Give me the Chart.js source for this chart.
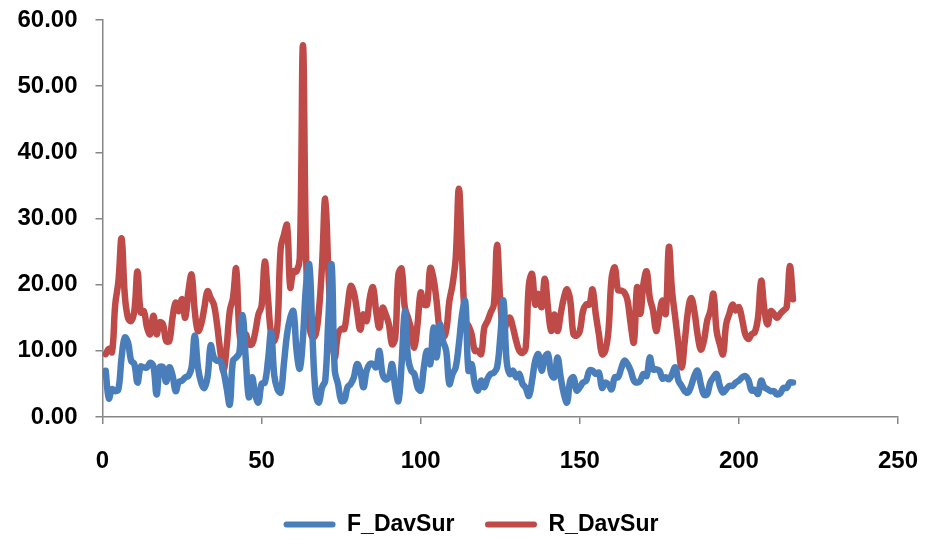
<!DOCTYPE html>
<html>
<head>
<meta charset="utf-8">
<script src="https://cdn.jsdelivr.net/npm/chart.js@4/dist/chart.umd.min.js"></script>
<style>
  html, body { margin: 0; padding: 0; background: #fff; }
  #wrap { width: 927px; height: 541px; }
</style>
</head>
<body>
<div id="wrap"><canvas id="Grafica"></canvas></div>
<script>
const POINTS = 217;

// sample number on the x axis (1..217)
const labels = Array(POINTS).fill(1).map((n, i) => n + i);

const fDavSur = [
  7, 2.8, 4.2, 3.9, 4.2, 9, 12, 11.3, 8.5, 8,
  5.2, 7.6, 7.5, 7.5, 8.2, 7.7, 3.4, 7.5, 7.5, 5.3,
  7.5, 6.3, 3.9, 5.3, 5.5, 6, 6.2, 7.5, 12.3, 7.5,
  5.2, 4.4, 6, 10.8, 9, 8.5, 8.5, 7, 4.4, 1.9,
  8.5, 9, 9.7, 15.4, 9, 3, 6, 3.4, 2.2, 5,
  5.2, 8.5, 12.8, 6.2, 4.2, 3.7, 8, 12.5, 15, 16,
  10, 7.3, 12, 20, 23, 12, 3.5, 2.2, 4.5, 5.5,
  15, 23, 7, 5, 2.5, 2.5, 4.5, 5, 6, 8,
  7, 4.5, 7, 8, 8, 7.5, 10, 6.5, 5.7, 6,
  8, 4.5, 2.4, 8, 16, 9, 7, 6.5, 4.5, 4,
  7.5, 10, 8, 13.5, 9, 14, 11.5, 10, 5, 6.5,
  7.5, 11, 15.5, 17.5, 7, 8, 5, 4, 5.5, 4.5,
  5.8, 6.5, 6.7, 7.5, 12, 17.6, 8.5, 6.5, 7, 6,
  6.5, 5, 4.4, 3.2, 5.5, 8.5, 9.5, 7, 9, 9.5,
  6.5, 6, 9, 6, 3.5, 2.2, 5.5, 6, 4, 4.5,
  5.2, 5.5, 7, 7, 6.5, 6.7, 4.4, 5.2, 4.9, 4.2,
  6, 6, 7.3, 8.5, 8, 7, 5.5, 5.2, 5.5, 6.5,
  6.2, 9, 7.2, 7.2, 7, 5.8, 6, 5.7, 6.5, 7.5,
  5.5, 4.7, 3.9, 3.7, 4.7, 6.2, 7, 5, 3.4, 3.4,
  5.2, 6, 6.5, 4.7, 3.7, 4.2, 4.7, 4.7, 5.2, 5.5,
  6, 6.2, 5.6, 4, 4.1, 3.5, 5.5, 4.5, 4.2, 3.9,
  3.9, 3.4, 3.6, 4.4, 4.4, 5.2, 5.2
];

const rDavSur = [
  9.5, 10.3, 9.8, 17, 20.5, 27, 18.5, 15, 14.5, 16,
  22, 15.8, 16, 13.5, 12.5, 15.3, 12.5, 14.3, 14, 11.5,
  11.5, 15, 17.3, 16, 17.8, 15, 19, 21.5, 16, 13,
  14, 16.5, 19, 18, 17, 14, 10, 7, 10.5, 16,
  18, 22.4, 13, 10.5, 12.5, 11, 11, 12.8, 15.5, 16.8,
  23.5, 18, 12.5, 11.5, 14, 25.5, 27.5, 29, 19.6, 22,
  22, 24, 56.2, 24, 14, 12, 12.5, 16, 23, 33,
  22, 13, 9, 12.5, 13.3, 13.3, 16.6, 19.8, 18.8, 16,
  13.2, 15.5, 14.5, 18, 19.6, 16, 13.5, 16.5, 15.5, 14,
  11, 12, 21.6, 22.4, 16.6, 15, 13.3, 10.5, 14, 18.8,
  17, 17, 22.5, 21, 17.5, 13, 12, 13, 17.5, 20,
  24, 34.5, 24, 14.5, 13.8, 12.5, 10, 10, 9.5, 13.5,
  14.5, 15.8, 17, 26, 17.6, 13, 14.2, 15, 13.5, 11.5,
  10, 9.7, 10.5, 20, 21.6, 17, 18.6, 16.6, 20.9, 16.5,
  13, 15.5, 13, 15.6, 18, 19.3, 17.6, 12.5, 12.3, 13,
  16, 17, 17, 19.3, 15.6, 12.5, 9.5, 10, 13, 21,
  22.6, 19.2, 19.1, 18.8, 17.6, 14, 11.3, 19.6, 15.6, 20.1,
  22, 18, 16.1, 13, 15.5, 17.6, 15.6, 25.7, 19, 15,
  11, 7.5, 11.5, 16, 18, 16, 12.5, 10.2, 11.5, 14.5,
  16, 18.6, 13, 11, 9.5, 14, 15.6, 17, 16.1, 16.6,
  14.8, 12.5, 11.8, 12.5, 12.8, 15, 20.6, 16.3, 14, 16,
  15.6, 15, 15.6, 16.1, 16.6, 22.8, 17.8
];

const xTicks = [0, 50, 100, 150, 200, 250];
const yTicks = [0, 10, 20, 30, 40, 50, 60];

const BLUE = '#4A7EBB';
const RED = '#BE4B48';
const AXIS = '#868686';
const TICK_FONT = { family: 'Liberation Sans', size: 24, weight: 'bold' };
const LEGEND_FONT = { family: 'Liberation Sans', size: 23, weight: 'bold' };

function toPoints(values) {
  return values.map((v, i) => ({ x: labels[i], y: v }));
}

// legend sits a bit right of the canvas centre, like the original
const legendShift = {
  id: 'legendShift',
  afterLayout(chart) {
    chart.legend.left += 22;
    chart.legend.right += 22;
  }
};

const data = {
  datasets: [
    {
      label: 'F_DavSur',
      data: toPoints(fDavSur),
      borderColor: BLUE,
      backgroundColor: BLUE,
    },
    {
      label: 'R_DavSur',
      data: toPoints(rDavSur),
      borderColor: RED,
      backgroundColor: RED,
    }
  ]
};

const config = {
  type: 'line',
  data: data,
  plugins: [legendShift],
  options: {
    responsive: true,
    maintainAspectRatio: false,
    animation: false,
    layout: {
      padding: { left: 0, right: 29, top: 20, bottom: -5 }
    },
    elements: {
      line: { borderWidth: 6.5, tension: 0.4, borderCapStyle: 'round', borderJoinStyle: 'round' },
      point: { radius: 0 }
    },
    plugins: {
      tooltip: { enabled: false },
      legend: {
        position: 'bottom',
        labels: {
          color: '#000',
          font: LEGEND_FONT,
          boxWidth: 52,
          boxHeight: 6,
          padding: 5,
          useBorderRadius: true,
          generateLabels: chart =>
            Chart.defaults.plugins.legend.labels.generateLabels(chart)
              .map((l, i) => ({ ...l, lineWidth: 0, borderRadius: 3, text: i === 0 ? l.text + '    ' : l.text }))
        }
      }
    },
    scales: {
      x: {
        type: 'linear',
        min: xTicks[0],
        max: xTicks[xTicks.length - 1],
        afterBuildTicks: scale => { scale.ticks = xTicks.map(v => ({ value: v })); },
        afterFit: scale => { scale.height = 91; scale.paddingLeft = 0; scale.paddingRight = 0; },
        grid: { display: true, drawOnChartArea: false, drawTicks: true, tickLength: 7, color: AXIS, lineWidth: 1.5 },
        border: { display: true, color: AXIS, width: 1.5 },
        ticks: { color: '#000', font: TICK_FONT, padding: 23, maxRotation: 0 }
      },
      y: {
        min: yTicks[0],
        max: yTicks[yTicks.length - 1],
        afterBuildTicks: scale => { scale.ticks = yTicks.map(v => ({ value: v })); },
        afterFit: scale => { scale.width = 102.5; scale.paddingTop = 0; scale.paddingBottom = 0; },
        grid: { display: true, drawOnChartArea: false, drawTicks: true, tickLength: 7, color: AXIS, lineWidth: 1.5 },
        border: { display: true, color: AXIS, width: 1.5 },
        ticks: { color: '#000', font: TICK_FONT, padding: 18, callback: v => v.toFixed(2) }
      }
    }
  }
};

const chart = new Chart(document.getElementById('Grafica'), config);
</script>
</body>
</html>
